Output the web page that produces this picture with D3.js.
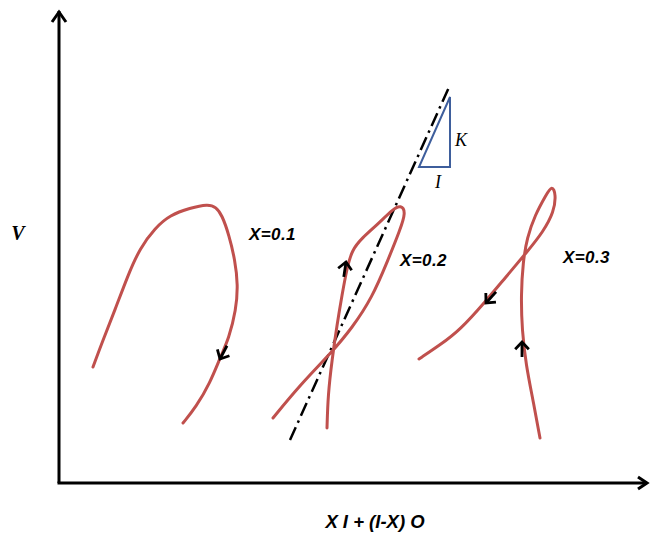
<!DOCTYPE html>
<html><head><meta charset="utf-8">
<script src="https://cdn.jsdelivr.net/npm/d3@7"></script>
<style>body{margin:0;background:#fff}svg{display:block}</style>
</head><body>
<svg id="c" width="652" height="534"></svg>
<script>
// Diagram units: x = horizontal offset from V-axis, y = height above X-axis
const curveX01 = [[34,116],[44,143],[56,173],[69,208],[81,235],[96,255],[111,268],[131,275],[149,279],[157,276],[163,268],[170,248],[176,223],[179,198],[177,173],[170,145],[161,125],[151,100],[137,76],[124,60]];
const curveX02 = [[268,55],[269,88],[273,123],[278,158],[283,188],[288,215],[293,233],[303,245],[319,259],[334,274],[342,278],[347,271],[341,253],[329,223],[313,185],[293,155],[273,131],[241,98],[214,65]];
const curveX03 = [[481,45],[474,83],[467,118],[463,153],[462,188],[464,221],[468,245],[476,268],[487,288],[493,298],[497,289],[495,271],[484,251],[468,231],[446,205],[426,181],[401,153],[381,138],[360,124]];
const curves = [curveX01, curveX02, curveX03];
const curveLabels = ["X=0.1","X=0.2","X=0.3"];
const labelPos = [[190,243],[341,217],[504,220]];
// direction arrows: tip position and travel direction (dx, dy in diagram units)
const arrows = [
  {x:161,y:124,dx:-10,dy:-19},
  {x:287,y:221,dx:3,dy:20},
  {x:427,y:180,dx:-18,dy:-20},
  {x:463,y:141,dx:0,dy:1}
];
const slopeLine = [[231,43],[391,398]];
const triangle = [[391,386],[360,316],[391,316]];
const xDomain = [0,586], yDomain = [0,471];

const svg = d3.select("#c");
const x = d3.scaleLinear().domain(xDomain).range([59,645]);
const y = d3.scaleLinear().domain(yDomain).range([483,12]);

// axes
svg.append("line").attr("x1",x(0)).attr("y1",y(0)).attr("x2",x(0)).attr("y2",y(yDomain[1])-1)
  .attr("stroke","#000").attr("stroke-width",3);
svg.append("line").attr("x1",x(0)-1.5).attr("y1",y(0)).attr("x2",x(xDomain[1])+2).attr("y2",y(0))
  .attr("stroke","#000").attr("stroke-width",3);
svg.append("path").attr("d",`M${x(0)-7},${y(yDomain[1])+10}L${x(0)},${y(yDomain[1])}L${x(0)+7},${y(yDomain[1])+10}`)
  .attr("fill","none").attr("stroke","#000").attr("stroke-width",3).attr("stroke-linejoin","miter");
svg.append("path").attr("d",`M${x(xDomain[1])-7},${y(0)-6}L${x(xDomain[1])+2},${y(0)}L${x(xDomain[1])-7},${y(0)+6}`)
  .attr("fill","none").attr("stroke","#000").attr("stroke-width",3);

// axis titles
svg.append("text").attr("x",18).attr("y",240).attr("text-anchor","middle")
  .attr("font-family","Liberation Serif, serif").attr("font-weight","bold").attr("font-style","italic")
  .attr("font-size",20).text("V");
svg.append("text").attr("x",375).attr("y",528).attr("text-anchor","middle")
  .attr("font-family","Liberation Sans, Arial, sans-serif").attr("font-weight","bold").attr("font-style","italic")
  .attr("font-size",18.5).text("X I + (I-X) O");

// slope line
const line = d3.line().x(d=>x(d[0])).y(d=>y(d[1]));
svg.append("path").attr("d",line(slopeLine)).attr("fill","none").attr("stroke","#000")
  .attr("stroke-width",2.5).attr("stroke-dasharray","14,5,2.5,5");

// triangle
svg.append("path").attr("d",line(triangle)+"Z").attr("fill","none").attr("stroke","#3e5e9c").attr("stroke-width",2);
svg.append("text").attr("x",x(396)).attr("y",y(337)).attr("font-family","Liberation Serif, serif")
  .attr("font-style","italic").attr("font-size",18).text("K");
svg.append("text").attr("x",x(376)).attr("y",y(295)).attr("font-family","Liberation Serif, serif")
  .attr("font-style","italic").attr("font-size",18).text("I");

// curves
const cl = d3.line().x(d=>x(d[0])).y(d=>y(d[1])).curve(d3.curveBasis);
curves.forEach(c=>{
  svg.append("path").attr("d",cl(c)).attr("fill","none").attr("stroke","#c0504d")
    .attr("stroke-width",3).attr("stroke-linecap","round");
});
curveLabels.forEach((t,i)=>{
  svg.append("text").attr("x",x(labelPos[i][0])).attr("y",y(labelPos[i][1]))
    .attr("font-family","Liberation Sans, Arial, sans-serif").attr("font-weight","bold").attr("font-style","italic")
    .attr("font-size",17).attr("letter-spacing",0.4).text(t);
});

// arrows
arrows.forEach(a=>{
  const tx=x(a.x), ty=y(a.y);
  const px=x(a.x+a.dx)-x(a.x), py=y(a.y+a.dy)-y(a.y);
  const len=Math.hypot(px,py), ux=px/len, uy=py/len;
  const ang=Math.atan2(uy,ux);
  const L=10, s=0.75;
  const p1=[tx-L*Math.cos(ang-s), ty-L*Math.sin(ang-s)];
  const p2=[tx-L*Math.cos(ang+s), ty-L*Math.sin(ang+s)];
  const g=svg.append("g");
  g.append("path").attr("d",`M${tx-ux*15},${ty-uy*15}L${tx},${ty}`).attr("stroke","#000").attr("stroke-width",2.8).attr("fill","none");
  g.append("path").attr("d",`M${p1[0]},${p1[1]}L${tx},${ty}L${p2[0]},${p2[1]}`).attr("stroke","#000")
    .attr("stroke-width",2.8).attr("fill","none");
});
</script>
</body></html>
